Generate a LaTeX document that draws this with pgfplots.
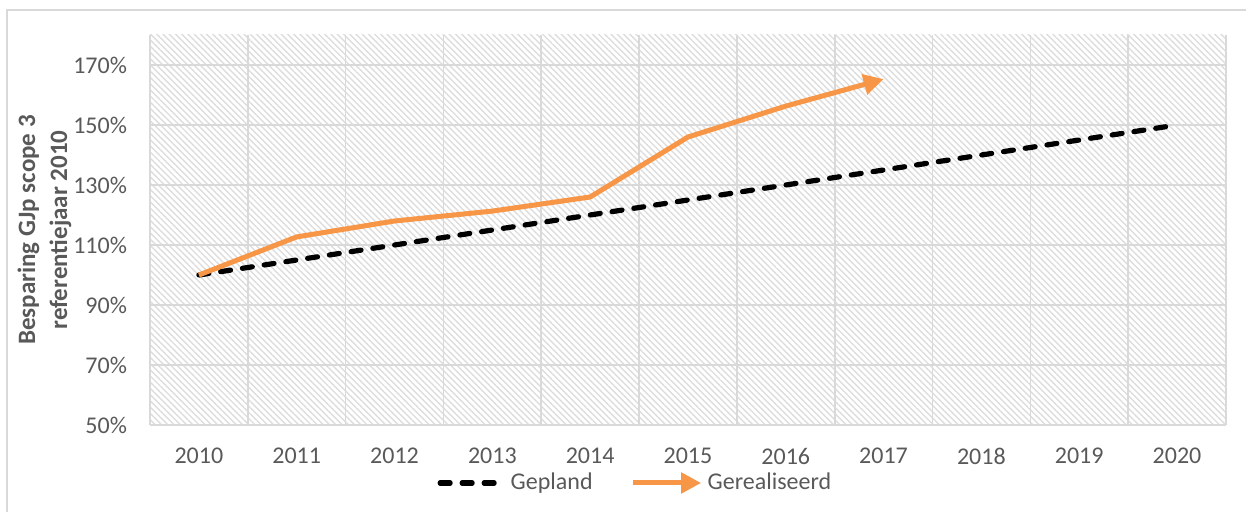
\documentclass[border=0pt]{standalone}
\usepackage{pgfplots}
\pgfplotsset{compat=1.18}
\usepackage{fontspec}
\setmainfont{Carlito}
\usetikzlibrary{patterns.meta,arrows.meta}
\definecolor{txt}{HTML}{595959}
\definecolor{org}{HTML}{F79646}
\definecolor{grd}{HTML}{D9D9D9}
\definecolor{htc}{HTML}{DDDDDD}
\pgfplotsset{
  legA/.style={legend image code/.code={\draw[##1] (0pt,0pt) -- (32pt,0pt);}},
  legB/.style={legend image code/.code={\draw[##1] (0pt,0pt) -- (34pt,0pt);}},
}
\begin{document}
\begin{tikzpicture}
\useasboundingbox (-75pt,-43.5pt) rectangle (548pt,212.5pt);
\draw[grd, line width=1pt] (-71.5pt,-60pt) rectangle (570pt,207.5pt);
\begin{axis}[
  name=ax, at={(0pt,0pt)}, anchor=south west,
  scale only axis, width=538pt, height=195pt,
  xmin=2009.5, xmax=2020.5, ymin=50, ymax=180,
  xtick={2010,...,2020},
  minor xtick={2009.5,2010.5,...,2020.5},
  ytick={50,70,...,170},
  yticklabel={\pgfmathprintnumber{\tick}\%},
  xticklabel style={/pgf/number format/1000 sep={}},
  /pgf/number format/assume math mode=true,
  major tick length=0pt, minor tick length=0pt,
  ymajorgrids, xminorgrids,
  major grid style={grd, line width=0.8pt},
  minor grid style={grd, line width=0.8pt},
  axis line style={draw=none},
  tick label style={font=\fontsize{12}{14}\selectfont, text=txt},
  xticklabel shift=8pt,
  yticklabel shift=8pt,
  axis background/.style={pattern={Lines[angle=-45,distance=2.2pt,line width=0.7pt]}, pattern color=htc},
  ylabel={Besparing GJp scope 3\\[3.5pt]referentiejaar 2010},
  ylabel style={at={(rel axis cs:-0.098,0.5)}, anchor=center, align=center,
    font=\bfseries\fontsize{12.5}{12.5}\selectfont, text=txt},
  legend style={at={(rel axis cs:0.452,-0.1487)}, anchor=center, draw=none, fill=none,
    legend columns=2, font=\fontsize{12}{14}\selectfont, text=txt,
    /tikz/every even column/.append style={column sep=17pt}},
  legend cell align=left,
]
\addplot[black, line width=2.6pt, line cap=round, dash pattern=on 5pt off 6pt, legA]
  coordinates {(2010,100) (2011,105) (2012,110) (2013,115) (2014,120) (2015,125) (2016,130) (2017,135) (2018,140) (2019,145) (2020,150)};
\addlegendentry{Gepland}
\addplot[org, line width=2.5pt, line join=round, -{Triangle[length=10pt,width=10pt]}, legB]
  coordinates {(2010,100) (2011,112.7) (2012,118) (2013,121.3) (2014,126) (2015,146) (2016,156.3) (2017,165.3)};
\addlegendentry{Gerealiseerd}
\end{axis}
\draw[grd, line width=1pt] (0pt,0pt) -- (538pt,0pt);
\end{tikzpicture}
\end{document}
